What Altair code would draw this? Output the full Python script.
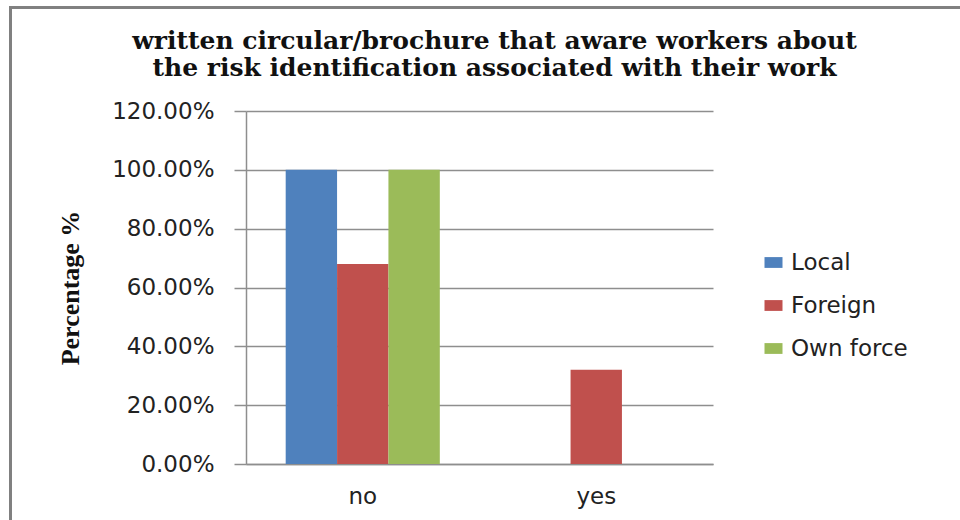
import altair as alt
import pandas as pd

categories = ["no", "yes"]
series = ["Local", "Foreign", "Own force"]
local_vals = [1.00, 0.00]
foreign_vals = [0.68, 0.32]
own_vals = [1.00, 0.00]
colors = ["#4F81BD", "#C0504D", "#9BBB59"]
y_ticks = [0, 0.2, 0.4, 0.6, 0.8, 1.0, 1.2]
title_lines = ["written circular/brochure  that aware workers about",
               "the risk identification associated with their work"]

rows = []
for i, c in enumerate(categories):
    for s, vals in zip(series, [local_vals, foreign_vals, own_vals]):
        rows.append({"answer": c, "group": s, "value": vals[i]})
df = pd.DataFrame(rows)

W, H = 467, 353
GRID = "#8e8e8e"

bars = alt.Chart(df).mark_bar().encode(
    x=alt.X("answer:N", sort=categories,
            scale=alt.Scale(paddingInner=0.34, paddingOuter=0.17),
            axis=alt.Axis(title=None, labelAngle=0, labelFont="DejaVu Sans",
                          labelFontSize=23, labelColor="#222222", labelPadding=21,
                          ticks=False, grid=False, domain=True, domainColor=GRID,
                          domainWidth=1.5)),
    xOffset=alt.XOffset("group:N", sort=series),
    y=alt.Y("value:Q",
            scale=alt.Scale(domain=[0, 1.2], nice=False),
            axis=alt.Axis(title="Percentage %", format=".2%", values=y_ticks,
                          labelFont="DejaVu Sans", labelFontSize=23, labelColor="#222222",
                          tickSize=12, tickColor=GRID, tickWidth=1.5, labelPadding=20,
                          domainColor=GRID, domainWidth=1.5,
                          grid=True, gridColor=GRID, gridWidth=1.5,
                          titleFont="Liberation Serif", titleFontWeight="bold",
                          titleFontSize=26, titleColor="#111111",
                          titleX=-176, titleY=H / 2, titleAngle=270,
                          titleAlign="center", titleBaseline="middle")),
    color=alt.Color("group:N", sort=series,
                    scale=alt.Scale(domain=series, range=colors),
                    legend=alt.Legend(title=None, orient="none", legendX=516, legendY=140,
                                      symbolType="M-1,-0.6H1V0.6H-1Z", symbolSize=324,
                                      symbolStrokeWidth=0, labelFont="DejaVu Sans",
                                      labelFontSize=23, labelColor="#222222",
                                      labelOffset=6, rowPadding=19)),
)

frame_left = alt.Chart(df).mark_rule(color="#808080", strokeWidth=3).encode(
    x=alt.value(-235.5), y=alt.value(-104), y2=alt.value(420))
frame_top = alt.Chart(df).mark_rule(color="#808080", strokeWidth=2).encode(
    x=alt.value(-237), x2=alt.value(720), y=alt.value(-103.5))

chart = alt.layer(bars, frame_left, frame_top).properties(
    width=W, height=H,
    background="#ffffff",
    autosize=alt.AutoSizeParams(type="none"),
    padding={"left": 246, "top": 111, "right": 247, "bottom": 56},
    title=alt.TitleParams(text=title_lines, font="DejaVu Serif", fontWeight="bold",
                          fontSize=25, lineHeight=27, color="#111111",
                          anchor="middle", dx=15, dy=75, offset=0),
).configure_view(strokeWidth=0, stroke=None)

chart.save("out.html", embed_options={"renderer": "svg", "actions": False})
